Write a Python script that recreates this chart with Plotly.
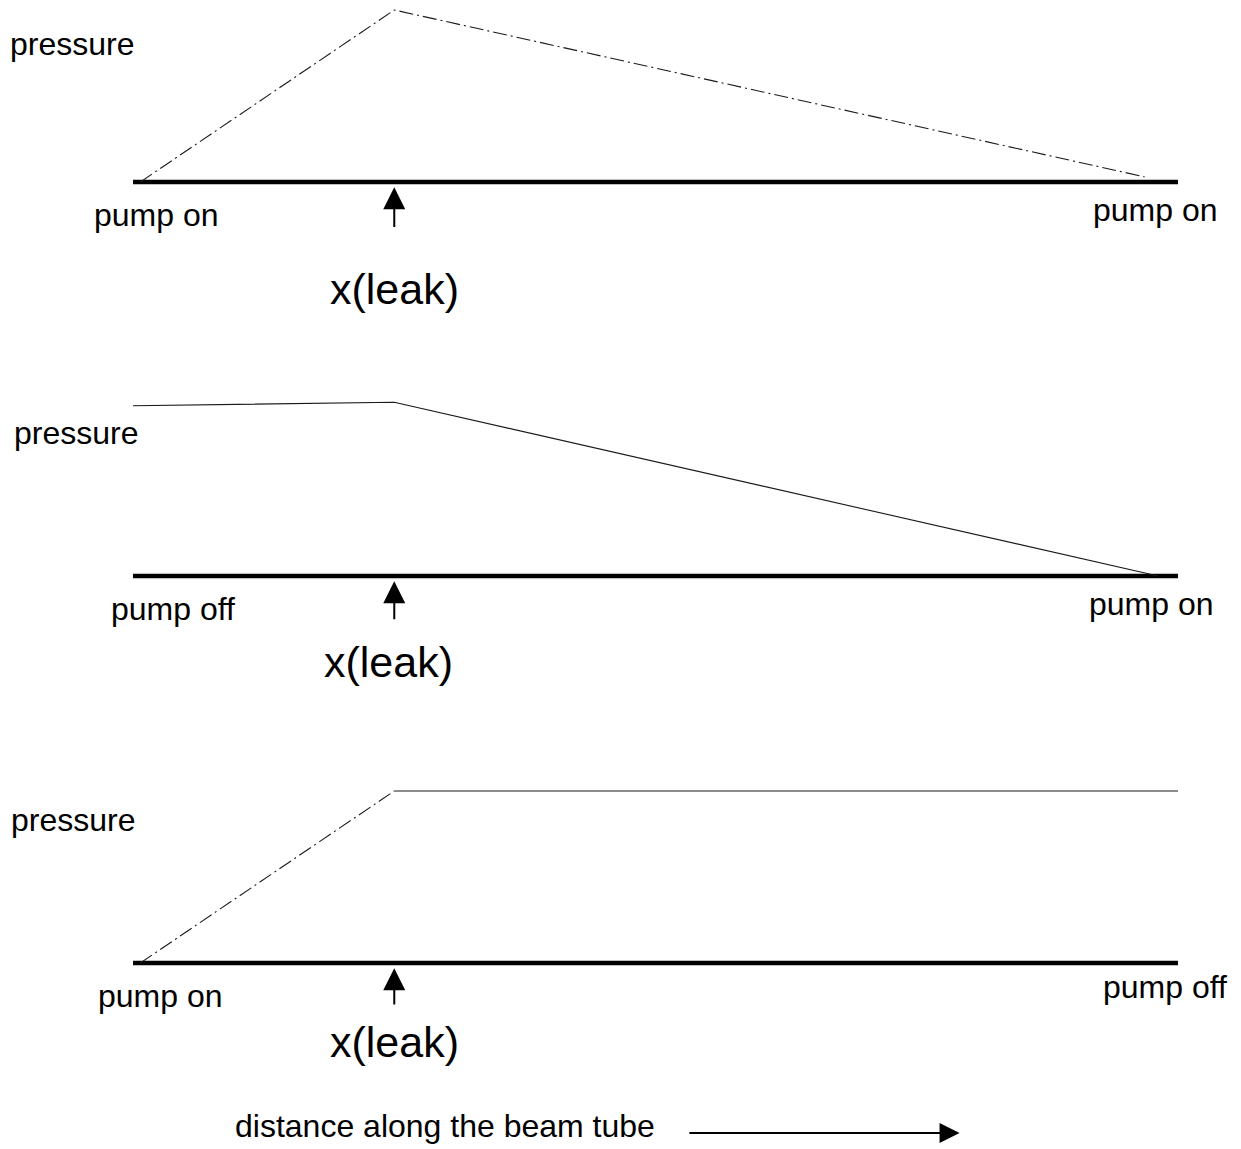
import plotly.graph_objects as go
from plotly.subplots import make_subplots

# ─────────────────────────────────
# Datos (distancia relativa a lo largo del tubo, presión relativa)
# ─────────────────────────────────
tubo_x = [0.0, 1.0]
tubo_y = [0.0, 0.0]
x_fuga = 0.25

# panel 1: bombas encendidas en ambos extremos
p1_x = [0.007, 0.25, 0.968]
p1_y = [0.0, 1.0, 0.03]

# panel 2: bomba izquierda apagada
p2_x = [0.0, 0.25, 0.981]
p2_y = [0.99, 1.01, 0.0]

# panel 3: bomba derecha apagada
p3_sub_x = [0.007, 0.25]
p3_sub_y = [0.0, 1.0]
p3_plano_x = [0.25, 1.0]
p3_plano_y = [1.0, 1.0]

etiquetas_izq = ["pump on", "pump off", "pump on"]
etiquetas_der = ["pump on", "pump on", "pump off"]

# ─────────────────────────────────
# Figura
# ─────────────────────────────────
FUENTE = "Liberation Sans, Arial, Helvetica, sans-serif"
fig = make_subplots(rows=3, cols=1, shared_xaxes=True, vertical_spacing=0)

linea_p = dict(color="#1a1a1a", width=1.1)

for fila in (1, 2, 3):
    fig.add_trace(go.Scatter(x=tubo_x, y=tubo_y, mode="lines",
                             line=dict(color="black", width=4.5),
                             showlegend=False, hoverinfo="skip"), row=fila, col=1)

fig.add_trace(go.Scatter(x=p1_x, y=p1_y, mode="lines",
                         line=dict(linea_p, dash="14px,4px,2px,4px"),
                         showlegend=False), row=1, col=1)
fig.add_trace(go.Scatter(x=p2_x, y=p2_y, mode="lines", line=linea_p,
                         showlegend=False), row=2, col=1)
fig.add_trace(go.Scatter(x=p3_sub_x, y=p3_sub_y, mode="lines",
                         line=dict(linea_p, dash="14px,4px,2px,4px"),
                         showlegend=False), row=3, col=1)
fig.add_trace(go.Scatter(x=p3_plano_x, y=p3_plano_y, mode="lines", line=linea_p,
                         showlegend=False), row=3, col=1)

# --- posiciones de las etiquetas por panel ---
pos_pressure = [(-0.058, 0.80), (-0.054, 0.83), (-0.057, 0.83)]
pos_izq = [(0.022, -0.19), (0.038, -0.19), (0.026, -0.19)]
pos_der = [(0.978, -0.16), (0.975, -0.16), (0.988, -0.14)]
pos_leak = [(0.25, -0.62), (0.244, -0.50), (0.25, -0.46)]
flecha = [(-0.03, -0.27), (-0.03, -0.26), (-0.03, -0.25)]

anot = []
for i, ref in enumerate(["y", "y2", "y3"]):
    txt = dict(xref="x", yref=ref, showarrow=False,
               font=dict(family=FUENTE, size=32, color="black"))
    anot.append(dict(txt, text="pressure", x=pos_pressure[i][0], y=pos_pressure[i][1]))
    anot.append(dict(txt, text=etiquetas_izq[i], x=pos_izq[i][0], y=pos_izq[i][1]))
    anot.append(dict(txt, text=etiquetas_der[i], x=pos_der[i][0], y=pos_der[i][1]))
    anot.append(dict(txt, text="x(leak)", x=pos_leak[i][0], y=pos_leak[i][1],
                     font=dict(family=FUENTE, size=43, color="black")))
    anot.append(dict(xref="x", yref=ref, axref="x", ayref=ref, text="",
                     x=x_fuga, y=flecha[i][0], ax=x_fuga, ay=flecha[i][1],
                     showarrow=True, arrowhead=2, arrowsize=2.2, arrowwidth=2,
                     arrowcolor="black"))

# --- eje de distancia ---
anot.append(dict(xref="x", yref="y3", text="distance along the beam tube",
                 x=0.299, y=-0.95, showarrow=False,
                 font=dict(family=FUENTE, size=32, color="black")))
anot.append(dict(xref="x", yref="y3", axref="x", ayref="y3", text="",
                 x=0.791, y=-0.988, ax=0.531, ay=-0.988,
                 showarrow=True, arrowhead=2, arrowsize=2, arrowwidth=2,
                 arrowcolor="black"))

fig.update_xaxes(range=[-0.1273, 1.0603], visible=False)
fig.update_yaxes(visible=False)
fig.update_yaxes(range=[-1.1686, 1.0581], row=1, col=1)
fig.update_yaxes(range=[-1.1047, 1.1221], row=2, col=1)
fig.update_yaxes(range=[-1.0814, 1.1453], row=3, col=1)

fig.update_layout(
    width=1241, height=1149,
    margin=dict(l=0, r=0, t=0, b=0),
    paper_bgcolor="white", plot_bgcolor="white",
    annotations=anot,
    showlegend=False,
)

# quitar el margen por defecto del <body> para que la figura empiece en (0, 0)
fig.write_html("out.html", config={"displayModeBar": False},
               post_script="document.body.style.margin='0';")
